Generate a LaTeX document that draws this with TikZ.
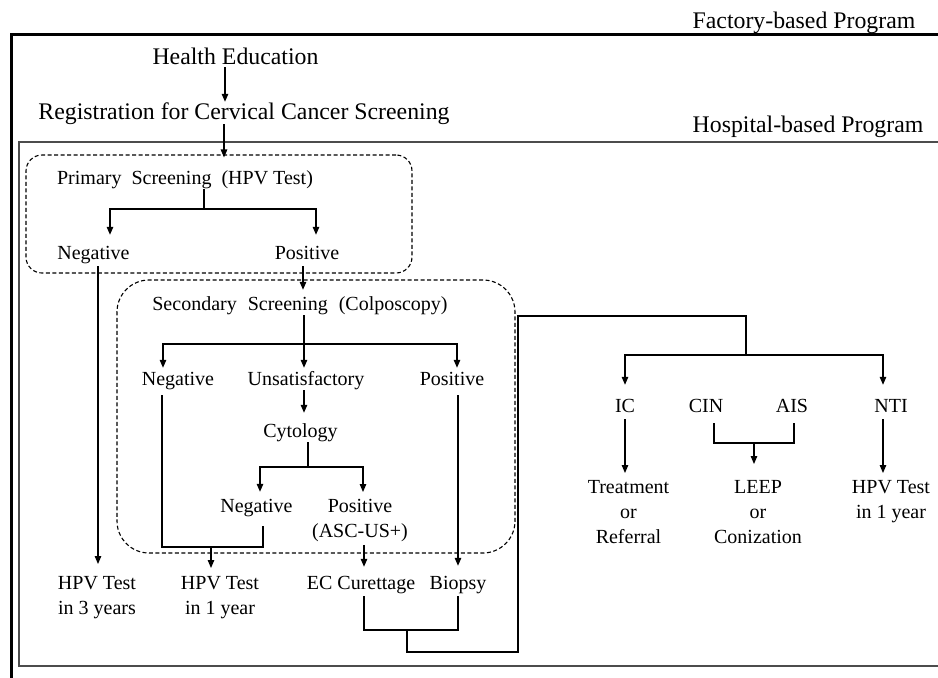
\documentclass[tikz,border=0pt]{standalone}
\usepackage{fontspec}
\setmainfont{Liberation Serif}
\usetikzlibrary{arrows.meta,calc}
\newcommand\fsm{\fontsize{20}{25}\selectfont}
\newcommand\fbg{\fontsize{23.8}{28}\selectfont}
\begin{document}
\begin{tikzpicture}[x=1pt,y=-1pt,
  lbl/.style={font=\fsm, inner sep=0pt, text height=14pt, text depth=5pt, anchor=base},
  big/.style={font=\fbg, inner sep=0pt, text height=16pt, text depth=5pt, anchor=base},
  multi/.style={font=\fsm, inner sep=0pt, align=center, anchor=north},
  ln/.style={line width=1.2pt},
  arr/.style={ln, -{Triangle[length=8pt,width=6.5pt]}},
  dbox/.style={draw, dash pattern=on 4pt off 2.5pt, line width=1.1pt, inner sep=0pt},
]
\useasboundingbox (0,0) rectangle (938,678);
\fill[white] (0,0) rectangle (938,678);

% frames
\draw[line width=3pt] (11,679) -- (11,34) -- (939,34);
\draw[line width=1.3pt, black!70] (939,142) -- (19,142) -- (19,666) -- (939,666);

% titles
\node[big] (fac) at (804,28) {Factory-based Program};
\node[big] (hosp) at (808,132) {Hospital-based Program};
\node[big] (he) at (235.5,64) {Health Education};
\node[big] (reg) at (244,119) {Registration for Cervical Cancer Screening};

% dashed boxes
\node[dbox, minimum width=386pt, minimum height=118pt, rounded corners=16pt] (pbox) at (219,214) {};
\node[dbox, minimum width=398pt, minimum height=273pt, rounded corners=32pt] (sbox) at (316,416.5) {};

% labels
\node[lbl] (ps) at (185,184) {Primary\hspace{0.5em}Screening\hspace{0.5em}(HPV Test)};
\node[lbl] (pneg) at (93.5,259) {Negative};
\node[lbl] (ppos) at (307,259) {Positive};
\node[lbl] (ss) at (300,310) {Secondary\hspace{0.55em}Screening\hspace{0.55em}(Colposcopy)};
\node[lbl] (cneg) at (178,385) {Negative};
\node[lbl] (cuns) at (306,385) {Unsatisfactory};
\node[lbl] (cpos) at (452,385) {Positive};
\node[lbl] (cyt) at (300.5,437) {Cytology};
\node[lbl] (yneg) at (256.5,512) {Negative};
\node[multi] (ypos) at (360,499) {Positive\\(ASC-US+)};
\node[multi] (hpv3) at (97,576) {HPV Test\\in 3 years};
\node[multi] (hpv1) at (220,576) {HPV Test\\in 1 year};
\node[lbl] (ec) at (361,589) {EC Curettage};
\node[lbl] (bio) at (458,589) {Biopsy};
\node[lbl] (ic) at (625,412) {IC};
\node[lbl] (cin) at (706,412) {CIN};
\node[lbl] (ais) at (792,412) {AIS};
\node[lbl] (nti) at (891,412) {NTI};
\node[multi] (treat) at (628.5,480) {Treatment\\or\\Referral};
\node[multi] (leep) at (758,480) {LEEP\\or\\Conization};
\node[multi] (hpvn) at (891,480) {HPV Test\\in 1 year};

% junctions
\coordinate (pj) at (204,209);
\coordinate (sj) at (304,344);
\coordinate (yj) at (308,467);
\coordinate (nj) at (211,547);
\coordinate (mj) at (407,630);
\coordinate (lo) at (518,652);
\coordinate (hi) at (746,316);
\coordinate (rj) at (746,355);
\coordinate (cj) at (754,443);

% connectors
\draw[arr] ($(he.south)+(-10.5,-2)$) -- ($(reg.north)+(-19,-1)$);
\draw[arr] ($(reg.south)+(-20,0)$) -- ($(pbox.north)+(5,3)$);
\draw[ln] ($(ps.south)+(19,0)$) -- (pj);
\draw[arr] (pj) -| ($(pneg.north)+(16.5,-10)$);
\draw[arr] (pj) -| ($(ppos.north)+(9,-10)$);
\draw[arr] ($(ppos.south)+(-4,2)$) -- ($(ss.north)+(3,-6)$);
\draw[arr] ($(pneg.south)+(4.5,2)$) -- ($(hpv3.north)+(1,-12)$);
\draw[arr] ($(ss.south)+(4,0)$) -- ($(cuns.north)+(-2,-3)$);
\draw[arr] (sj) -| ($(cneg.north)+(-15,-3)$);
\draw[arr] (sj) -| ($(cpos.north)+(5,-3)$);
\draw[arr] ($(cuns.south)+(-2,0)$) -- ($(cyt.north)+(3.5,-10)$);
\draw[ln] ($(cyt.south)+(7.5,0)$) -- (yj);
\draw[arr] (yj) -| ($(yneg.north)+(3.5,-6)$);
\draw[arr] (yj) -| ($(ypos.north)+(3,-7)$);
\draw[ln] ($(cneg.south)+(-16,5)$) |- (nj) -| ($(yneg.south)+(6.5,9)$);
\draw[arr] (nj) -- ($(hpv1.north)+(-9,-8)$);
\draw[arr] ($(ypos.south)+(4,3)$) -- ($(ec.north)+(3,-8)$);
\draw[arr] ($(cpos.south)+(6,5)$) -- ($(bio.north)+(0,-9)$);
\draw[ln] ($(ec.south)+(3,2)$) |- (mj) -| ($(bio.south)+(0,2)$);
\draw[ln] (mj) |- (lo) |- (hi) -- (rj);
\draw[arr] (rj) -| ($(ic.north)+(0,-13)$);
\draw[arr] (rj) -| ($(nti.north)+(-8,-13)$);
\draw[arr] ($(ic.south)+(0,2)$) -- ($(treat.north)+(-3.5,-7)$);
\draw[arr] ($(nti.south)+(-8,2)$) -- ($(hpvn.north)+(-8,-7)$);
\draw[ln] ($(cin.south)+(8,6)$) |- (cj) -| ($(ais.south)+(2,6)$);
\draw[arr] (cj) -- ($(leep.north)+(-4,-16)$);
\end{tikzpicture}
\end{document}
